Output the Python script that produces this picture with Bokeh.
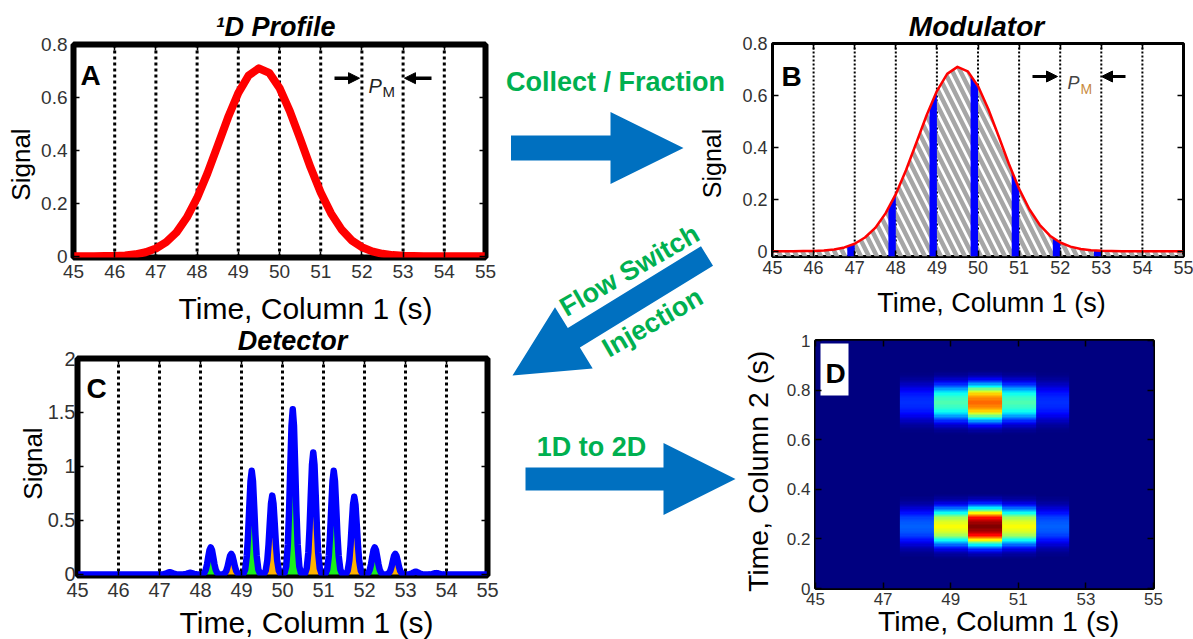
import math
import numpy as np
from bokeh.plotting import figure
from bokeh.models import (Range1d, FixedTicker, NumeralTickFormatter, LinearAxis, Span, Arrow,
                          NormalHead, LinearColorMapper, Label)
from bokeh.core.properties import value
from bokeh.embed import file_html
from bokeh.resources import INLINE

W, H = 1193, 639
FONT = "Liberation Sans"

# ---------------- data ----------------
# first-dimension peak as it leaves column 1 (time in s, signal)
profile_t = [45.0, 45.25, 45.5, 45.75, 46.0, 46.25, 46.5, 46.75, 47.0, 47.25, 47.5, 47.75,
             48.0, 48.25, 48.5, 48.75, 49.0, 49.25, 49.5, 49.75, 50.0, 50.25, 50.5, 50.75,
             51.0, 51.25, 51.5, 51.75, 52.0, 52.25, 52.5, 52.75, 53.0, 53.25, 53.5, 53.75,
             54.0, 54.25, 54.5, 54.75, 55.0]
profile_signal = [0.000, 0.000, 0.000, 0.001, 0.001, 0.003, 0.007, 0.015, 0.029, 0.053, 0.090, 0.146,
                  0.220, 0.313, 0.418, 0.524, 0.617, 0.683, 0.710, 0.693, 0.636, 0.548, 0.444, 0.337,
                  0.241, 0.162, 0.102, 0.060, 0.034, 0.018, 0.009, 0.004, 0.002, 0.001, 0.000, 0.000,
                  0.000, 0.000, 0.000, 0.000, 0.000]

# modulation period boundaries (s)
period_bounds = [46, 47, 48, 49, 50, 51, 52, 53, 54]

# slices injected into column 2 at the end of each modulation period
frac_start = [46.82, 47.82, 48.82, 49.82, 50.82, 51.82, 52.82]
frac_end = [47.0, 48.0, 49.0, 50.0, 51.0, 52.0, 53.0]
frac_top_start = [0.018, 0.165, 0.550, 0.680, 0.310, 0.050, 0.003]
frac_top_end = [0.029, 0.220, 0.617, 0.636, 0.241, 0.034, 0.002]

# detector trace: second-dimension peaks (apex time, height, analyte)
det_t = [47.25, 47.75, 48.25, 48.75, 49.25, 49.75, 50.25, 50.75, 51.25, 51.75, 52.25, 52.75, 53.25, 53.75]
det_h = [0.02, 0.015, 0.25, 0.19, 0.96, 0.73, 1.53, 1.13, 0.96, 0.72, 0.25, 0.19, 0.025, 0.012]
det_analyte = ["", "", "1", "2", "1", "2", "1", "2", "1", "2", "1", "2", "", ""]

# normalised shape of one second-dimension peak (offset in s, relative height)
peak_shape_dt = [-0.25, -0.2, -0.16, -0.12, -0.09, -0.06, -0.03, 0.0, 0.03, 0.06, 0.09, 0.12, 0.16, 0.2, 0.25]
peak_shape_rel = [0.0, 0.009, 0.048, 0.18, 0.38, 0.65, 0.90, 1.0, 0.90, 0.65, 0.38, 0.18, 0.048, 0.009, 0.0]

# 2D chromatogram: one column per modulation period
d2_t1 = [45, 46, 47, 48, 49, 50, 51, 52, 53, 54, 55]
d2_early = [0, 0, 0, 0.22, 0.62, 1.00, 0.62, 0.22, 0, 0, 0]   # analyte at 0.25 s
d2_late = [0, 0, 0, 0.17, 0.45, 0.77, 0.45, 0.17, 0, 0, 0]    # analyte at 0.75 s
d2_rt = [0.25, 0.75]
d2_offset = [0.005, 0.015, 0.025, 0.035, 0.045, 0.055, 0.065, 0.075, 0.085, 0.095, 0.105, 0.115, 0.125, 0.135]
d2_shape = [1.00, 0.97, 0.93, 0.87, 0.76, 0.63, 0.48, 0.36, 0.24, 0.15, 0.08, 0.04, 0.015, 0.0]

ticks_t1 = [45, 46, 47, 48, 49, 50, 51, 52, 53, 54, 55]
ticks_sig = [0, 0.2, 0.4, 0.6, 0.8]
ticks_det = [0, 0.5, 1, 1.5, 2]
ticks_d_x = [45, 47, 49, 51, 53, 55]
ticks_d_y = [0, 0.2, 0.4, 0.6, 0.8, 1]

GREEN_TXT = "#00B050"
ARROW_BLUE = "#0070C0"
TICK_COLOR = "#333333"

# every figure covers the whole page and is pinned to its top-left corner
PIN = {"position": "absolute", "left": "0px", "top": "0px"}


# ---------------- page layer: arrows, titles, axis titles ----------------
bg = figure(width=W, height=H, x_range=Range1d(0, W), y_range=Range1d(0, H),
            output_backend="svg", toolbar_location=None, styles=PIN,
            x_axis_type=None, y_axis_type=None, min_border=0)
bg.outline_line_color = None
bg.background_fill_color = "white"
bg.border_fill_color = "white"


def arrow_outline(tail, tip, body_half, head_half, head_len):
    tx, ty = tail
    px, py = tip
    length = math.hypot(px - tx, py - ty)
    dx, dy = (px - tx) / length, (py - ty) / length
    nx, ny = -dy, dx
    bx, by = px - dx * head_len, py - dy * head_len
    pts = [(tx + nx * body_half, ty + ny * body_half),
           (bx + nx * body_half, by + ny * body_half),
           (bx + nx * head_half, by + ny * head_half),
           (px, py),
           (bx - nx * head_half, by - ny * head_half),
           (bx - nx * body_half, by - ny * body_half),
           (tx - nx * body_half, ty - ny * body_half)]
    return [p[0] for p in pts], [H - p[1] for p in pts]


arrows = [arrow_outline((510.5, 147.5), (683, 147.5), 12.5, 36, 73),
          arrow_outline((706.5, 255.5), (512, 375), 11.5, 36, 72),
          arrow_outline((525, 478.5), (735, 478.5), 11.5, 36, 72)]
bg.patches(xs=[a[0] for a in arrows], ys=[a[1] for a in arrows],
           fill_color=ARROW_BLUE, line_color=None)


def page_text(X, Y, s, size, color="black", style="normal", angle=0.0):
    """Text centred on page pixel (X, Y)."""
    bg.text(x=[X], y=[H - Y], text=[s], text_font=value(FONT), text_font_size=f"{size}px",
            text_font_style=style, text_color=color, angle=angle,
            text_align="center", text_baseline="middle")


# step labels on the arrows
page_text(615, 81, "Collect / Fraction", 27, GREEN_TXT, "bold")
page_text(591, 446, "1D to 2D", 27, GREEN_TXT, "bold")
page_text(629, 270, "Flow Switch", 27, GREEN_TXT, "bold", angle=math.radians(30))
page_text(652, 322, "Injection", 27, GREEN_TXT, "bold", angle=math.radians(30))

# panel titles
page_text(275, 26.5, "\u00b9D Profile", 27, style="bold italic")
page_text(976, 25.5, "Modulator", 28, style="bold italic")
page_text(292, 340.5, "Detector", 27, style="bold italic")

# axis titles
page_text(305, 307.5, "Time, Column 1 (s)", 30)
page_text(306, 621.5, "Time, Column 1 (s)", 30)
page_text(991, 302.5, "Time, Column 1 (s)", 27)
page_text(998, 620.5, "Time, Column 1 (s)", 28.5)
page_text(20, 164, "Signal", 26, angle=math.pi / 2)
page_text(711, 163, "Signal", 25, angle=math.pi / 2)
page_text(32.5, 463, "Signal", 26, angle=math.pi / 2)
page_text(757, 471, "Time, Column 2 (s)", 28.5, angle=math.pi / 2)


# ---------------- panels ----------------
class Panel:
    """A page-sized transparent figure whose frame sits at a given box (page pixels)."""

    def __init__(self, box, xr, yr, xticks, yticks, tick_px, xstand, ystand, box_w):
        self.L, self.R, self.T, self.B = box
        self.xr, self.yr = xr, yr
        p = figure(width=W, height=H, x_range=Range1d(*xr), y_range=Range1d(*yr),
                   output_backend="svg", toolbar_location=None, styles=PIN,
                   min_border_left=self.L, min_border_right=W - self.R,
                   min_border_top=self.T, min_border_bottom=H - self.B)
        p.border_fill_alpha = 0.0
        p.background_fill_color = "white"
        p.grid.visible = False
        p.outline_line_color = "black"
        p.outline_line_width = box_w
        p.add_layout(LinearAxis(), "right")
        p.add_layout(LinearAxis(), "above")
        for ax in p.below + p.above:
            ax.ticker = FixedTicker(ticks=xticks)
            ax.formatter = NumeralTickFormatter(format="0")
            ax.major_label_standoff = xstand
        for ax in p.left + p.right:
            ax.ticker = FixedTicker(ticks=yticks)
            ax.formatter = NumeralTickFormatter(format="0.[0]")
            ax.major_label_standoff = ystand
        for ax in p.below + p.above + p.left + p.right:
            ax.axis_line_color = None
            ax.major_tick_in = 6
            ax.major_tick_out = 0
            ax.major_tick_line_color = "black"
            ax.major_tick_line_width = 1.5
            ax.minor_tick_line_color = None
            ax.major_label_text_font = FONT
            ax.major_label_text_font_size = f"{tick_px}px"
            ax.major_label_text_color = TICK_COLOR
        for ax in p.above + p.right:
            ax.major_label_text_color = None
            ax.major_label_standoff = 0
        self.fig = p

    def data(self, X, Y):
        x0, x1 = self.xr
        y0, y1 = self.yr
        return (x0 + (X - self.L) / (self.R - self.L) * (x1 - x0),
                y1 - (Y - self.T) / (self.B - self.T) * (y1 - y0))

    def text(self, X, Y, s, size, color="black", style="normal", align="center", baseline="alphabetic"):
        x, y = self.data(X, Y)
        self.fig.add_layout(Label(x=x, y=y, text=s, text_font=FONT, text_font_size=f"{size}px",
                                  text_font_style=style, text_color=color,
                                  text_align=align, text_baseline=baseline))

    def period_lines(self, width, dash):
        for t in period_bounds:
            self.fig.add_layout(Span(location=t, dimension="height", line_color="black",
                                     line_width=width, line_dash=dash, level="underlay"))

    def period_marker(self, Y, a, b, lw):
        for X0, X1 in (a, b):
            xs, ys = self.data(X0, Y)
            xe, ye = self.data(X1, Y)
            self.fig.add_layout(Arrow(end=NormalHead(size=11, fill_color="black", line_color="black",
                                                     line_width=1),
                                      x_start=xs, y_start=ys, x_end=xe, y_end=ye,
                                      line_color="black", line_width=lw))


# ---------------- A: first-dimension profile ----------------
A = Panel((73, 485, 44, 257), (45, 55), (-0.005, 0.8), ticks_t1, ticks_sig, 19, 7, 6, 6)
A.period_lines(3, "3 3")
A.fig.line(profile_t, profile_signal, line_color="red", line_width=8, line_join="round")
A.text(90, 75, "A", 28, style="bold", baseline="middle")
A.period_marker(77.7, (334, 359), (431, 404), 3.5)
A.text(368, 85, "P", 20, color="#222222", style="italic", align="left")
A.text(382, 91, "M", 15, color="#222222", align="left")

# ---------------- B: modulator ----------------
b_floor = -0.02
Bp = Panel((772, 1183, 43, 256), (45, 55), (b_floor, 0.8), ticks_t1, ticks_sig, 18, 4, 5, 3)
Bp.period_lines(2, "2 2")
Bp.fig.patch([profile_t[0]] + profile_t + [profile_t[-1]],
             [b_floor] + profile_signal + [b_floor],
             fill_color=None, line_color=None,
             hatch_pattern="\\", hatch_color="#a6a6a6", hatch_weight=4.5, hatch_scale=16)
Bp.fig.patches(xs=[[s, s, e, e] for s, e in zip(frac_start, frac_end)],
               ys=[[b_floor, ts, te, b_floor] for ts, te in zip(frac_top_start, frac_top_end)],
               fill_color="blue", line_color=None)
Bp.fig.line(profile_t, profile_signal, line_color="red", line_width=2.5, line_join="round")
Bp.text(791, 76, "B", 28, style="bold", baseline="middle")
Bp.period_marker(76, (1032, 1057), (1125, 1101), 3)
Bp.text(1067, 82, "P", 18, color="#444444", style="italic", align="left")
Bp.text(1080, 88, "M", 14, color="#c98a3e", align="left")

# ---------------- C: detector ----------------
C = Panel((77, 487, 358, 575), (45, 55), (-0.01, 2.0), ticks_t1, ticks_det, 20, 7, 2, 6)
C.period_lines(3, "3 3")
fill_colors = {"1": "#1aef1a", "2": "#ffb300"}
fx, fy, fc = [], [], []
for t, h, a in zip(det_t, det_h, det_analyte):
    if a:
        fx.append([t + d for d in peak_shape_dt])
        fy.append([h * r for r in peak_shape_rel])
        fc.append(fill_colors[a])
C.fig.patches(xs=fx, ys=fy, fill_color=fc, line_color=None)
trace_x, trace_y = [45.0], [0.0]
for t, h in zip(det_t, det_h):
    trace_x += [t + d for d in peak_shape_dt]
    trace_y += [h * r for r in peak_shape_rel]
trace_x.append(55.0)
trace_y.append(0.0)
C.fig.line(trace_x, trace_y, line_color="blue", line_width=6.5, line_join="round")
C.text(96, 388, "C", 28, style="bold", baseline="middle")


# ---------------- D: 2D chromatogram ----------------
def jet_hex(v):
    r = min(max(1.5 - abs(4 * v - 3), 0.0), 1.0)
    g = min(max(1.5 - abs(4 * v - 2), 0.0), 1.0)
    b = min(max(1.5 - abs(4 * v - 1), 0.0), 1.0)
    return "#%02x%02x%02x" % (round(r * 255), round(g * 255), round(b * 255))


jet = [jet_hex(i / 255) for i in range(256)]

n_rows = 100
grid2d = np.zeros((n_rows, len(d2_t1)))
for i in range(n_rows):
    yc = (i + 0.5) / n_rows
    for rt, peaks in zip(d2_rt, (d2_early, d2_late)):
        dist = abs(yc - rt)
        for off, s in zip(d2_offset, d2_shape):
            if abs(dist - off) < 1e-6:
                grid2d[i, :] += np.array(peaks) * s

D = Panel((815, 1153, 340, 588), (45, 55), (0, 1), ticks_d_x, ticks_d_y, 17, 4, 5, 3)
D.fig.image(image=[grid2d], x=d2_t1[0] - 0.5, y=0, dw=len(d2_t1), dh=1,
            color_mapper=LinearColorMapper(palette=jet, low=0, high=1))
bx0, by0 = D.data(820, 395)
bx1, by1 = D.data(848, 343)
D.fig.quad(left=[bx0], right=[bx1], bottom=[by0], top=[by1], fill_color="white", line_color=None)
D.text(835, 373, "D", 28, style="bold", baseline="middle")

# separate roots, stacked on the page (later ones on top)
open("out.html", "w").write(file_html([bg, A.fig, Bp.fig, C.fig, D.fig], INLINE))
